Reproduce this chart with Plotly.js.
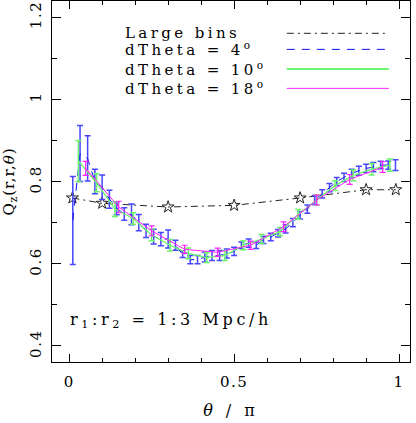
<!DOCTYPE html>
<html>
<head>
<meta charset="utf-8">
<script src="https://cdn.plot.ly/plotly-3.0.1.min.js"></script>
<style>
html,body{margin:0;padding:0;background:#fff;}
#chart{width:416px;height:423px;}
.xtick text, .ytick text{letter-spacing:1.5px;}
</style>
</head>
<body>
<div id="chart"></div>
<script>
// Large bins
const largeX = [0.01, 0.1, 0.3, 0.5, 0.7, 0.9, 0.99];
const largeY = [0.76, 0.747, 0.738, 0.742, 0.76, 0.78, 0.78];

// dTheta = 4 deg
const d4X = [0.011,0.033,0.056,0.078,0.100,0.122,0.144,0.167,0.189,0.211,0.233,0.256,0.278,0.300,0.322,
             0.344,0.367,0.389,0.411,0.433,0.456,0.478,0.500,0.522,0.544,0.567,0.589,0.611,0.633,0.656,
             0.678,0.700,0.722,0.744,0.767,0.789,0.811,0.833,0.856,0.878,0.900,0.922,0.944,0.967,0.989];
const d4Y = [0.705,0.868,0.856,0.800,0.786,0.757,0.735,0.721,0.720,0.700,0.680,0.666,0.660,0.660,0.645,
             0.623,0.610,0.610,0.616,0.620,0.620,0.625,0.630,0.645,0.650,0.645,0.658,0.665,0.674,0.685,
             0.700,0.718,0.733,0.755,0.770,0.785,0.800,0.810,0.820,0.826,0.832,0.835,0.840,0.840,0.840];
const d4E = [0.107,0.068,0.055,0.030,0.030,0.022,0.016,0.015,0.025,0.020,0.016,0.018,0.016,0.022,0.012,
             0.008,0.010,0.010,0.012,0.012,0.012,0.011,0.010,0.008,0.010,0.008,0.009,0.009,0.009,0.010,
             0.010,0.009,0.010,0.011,0.010,0.010,0.010,0.010,0.010,0.011,0.010,0.011,0.009,0.010,0.013];

// dTheta = 10 deg
const d10X = [0.028,0.083,0.139,0.194,0.250,0.306,0.361,0.417,0.472,0.528,0.583,0.639,0.694,0.750,0.806,0.861,0.917,0.972];
const d10Y = [0.850,0.797,0.733,0.710,0.670,0.645,0.625,0.615,0.620,0.645,0.660,0.678,0.720,0.755,0.790,0.815,0.830,0.840];
const d10E = [0.050,0.022,0.018,0.014,0.014,0.014,0.013,0.012,0.012,0.011,0.011,0.010,0.012,0.013,0.012,0.013,0.014,0.015];

// dTheta = 18 deg
const d18X = [0.05,0.15,0.25,0.35,0.45,0.55,0.65,0.75,0.85,0.95];
const d18Y = [0.832,0.738,0.680,0.635,0.628,0.645,0.690,0.755,0.805,0.835];
const d18E = [0.017,0.014,0.012,0.010,0.010,0.010,0.012,0.012,0.012,0.013];

const legendLabels = ['Large bins', 'dTheta = 4<sup>o</sup>', 'dTheta = 10<sup>o</sup>', 'dTheta = 18<sup>o</sup>'];
const note = 'r<sub>1</sub>:r<sub>2</sub> = 1:3 Mpc/h';

const BLUE = '#1010f0', BLUEBAR = '#4646ff', GREEN = '#6cf56c', MAG = '#ff22ff';
const SERIF = 'DejaVu Serif, serif';
const spaced = (t, px) => '<span style="letter-spacing:' + px + 'px">' + t + '</span>';

const traces = [
  {x: largeX, y: largeY, mode: 'lines+markers', type: 'scatter',
   line: {color: '#222', width: 1, dash: '7px,4px,2px,4px'},
   marker: {symbol: 'star-open', size: 9, color: '#222', line: {width: 1}}},
  {x: d4X, y: d4Y, mode: 'lines', type: 'scatter',
   line: {color: BLUE, width: 1, dash: '8px,7px'},
   error_y: {type: 'data', array: d4E, visible: true, color: BLUEBAR, thickness: 1.5, width: 3}},
  {x: d10X, y: d10Y, mode: 'lines', type: 'scatter',
   line: {color: GREEN, width: 1.3},
   error_y: {type: 'data', array: d10E, visible: true, color: GREEN, thickness: 1.5, width: 3}},
  {x: d18X, y: d18Y, mode: 'lines', type: 'scatter',
   line: {color: MAG, width: 1},
   error_y: {type: 'data', array: d18E, visible: true, color: MAG, thickness: 1.2, width: 3}}
];

const legY = [0.9105, 0.866, 0.8116, 0.758];
const legStyles = [
  {color: '#222', width: 1, dash: '7px,4px,2px,4px'},
  {color: BLUE, width: 1, dash: '8px,7px'},
  {color: GREEN, width: 2},
  {color: MAG, width: 1}
];
const shapes = legY.map((yy, i) => ({type: 'line', xref: 'paper', yref: 'paper',
  x0: 0.656, x1: 0.941, y0: yy, y1: yy, line: legStyles[i]}));
const annotations = legendLabels.map((t, i) => ({text: spaced(t, 3.4), xref: 'paper', yref: 'paper',
  x: 0.198, y: legY[i], xanchor: 'left', yanchor: 'middle', showarrow: false,
  font: {family: SERIF, size: 15, color: '#000'}}));
annotations.push({text: spaced(note, 3.6), xref: 'paper', yref: 'paper', x: 0.045, y: 0.114,
  xanchor: 'left', yanchor: 'middle', showarrow: false, font: {family: SERIF, size: 16, color: '#000'}});

const layout = {
  width: 416, height: 423,
  margin: {l: 52, r: 6, t: 1, b: 61, pad: 0},
  paper_bgcolor: '#fff', plot_bgcolor: '#fff',
  showlegend: false,
  font: {family: SERIF, size: 14, color: '#000'},
  xaxis: {
    range: [-0.052, 1.033], showgrid: false, zeroline: false,
    showline: true, linecolor: '#000', linewidth: 1, mirror: 'ticks',
    ticks: 'inside', ticklen: 8, tickwidth: 1, tickcolor: '#000',
    tick0: 0, dtick: 0.5, ticklabelstandoff: 6,
    minor: {dtick: 0.1, ticks: 'inside', ticklen: 4, tickcolor: '#000', showgrid: false},
    tickfont: {family: SERIF, size: 15},
    title: {text: spaced('<i>θ</i> / π', 4), font: {family: SERIF, size: 16}, standoff: 14}
  },
  yaxis: {
    range: [0.361, 1.239], showgrid: false, zeroline: false,
    showline: true, linecolor: '#000', linewidth: 1, mirror: 'ticks',
    ticks: 'inside', ticklen: 9, tickwidth: 1, tickcolor: '#000',
    tick0: 0, dtick: 0.2, tickangle: -90, ticklabelstandoff: 4,
    minor: {dtick: 0.1, ticks: 'inside', ticklen: 5, tickcolor: '#000', showgrid: false},
    tickfont: {family: SERIF, size: 15},
    title: {text: spaced('Q<sub>z</sub>(r,r,<i>θ</i>)', 1), font: {family: SERIF, size: 15}, standoff: 8}
  },
  shapes: shapes,
  annotations: annotations
};

Plotly.newPlot('chart', traces, layout, {staticPlot: true, displayModeBar: false});
</script>
</body>
</html>
